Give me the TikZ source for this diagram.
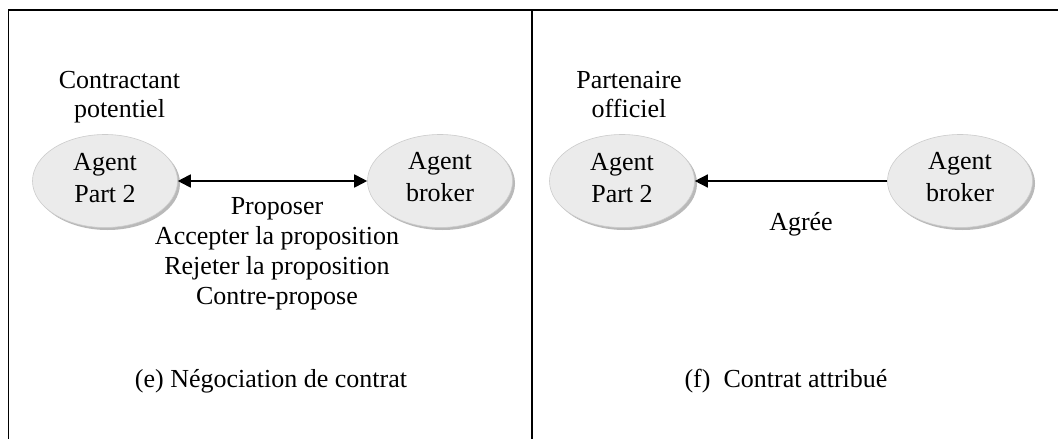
\documentclass[tikz,border=0pt]{standalone}
\usepackage{fontspec}
\setmainfont{Liberation Serif}
\usetikzlibrary{shapes.geometric,arrows.meta}
\begin{document}
\begin{tikzpicture}[x=1pt,y=-1pt,
  >={Triangle[length=13pt,width=13pt]},
  agent/.style={ellipse,minimum width=145pt,minimum height=93pt,inner sep=0pt,
    fill=gray!16,draw=gray!40,line width=0.6pt},
  agentshadow/.style={ellipse,minimum width=145pt,minimum height=93pt,inner sep=0pt,fill=gray!55},
  txt/.style={align=center,anchor=base,inner sep=0pt,font=\fontsize{26}{30}\selectfont},
  agenttxt/.style={txt,font=\fontsize{26}{32}\selectfont},
  roletxt/.style={txt,font=\fontsize{26}{29}\selectfont},
  frame/.style={line width=1.6pt,black},
  link/.style={line width=1.8pt,black}
]
\useasboundingbox (0,0) rectangle (1058,439);
\fill[white] (0,0) rectangle (1058,439);

% panel frame
\draw[frame] (8.5,439) -- (8.5,10) -- (1058,10);
\draw[frame] (532,9) -- (532,439);

% ---- panel (e): contract negotiation ----
\node[agentshadow] at (107.5,183.5) {};
\node[agentshadow] at (442.5,183.5) {};
\node[agent] (p2e) at (105,181) {};
\node[agent] (bre) at (440,181) {};
\node[agenttxt] (p2et) at (105,202) {Agent\\Part 2};
\node[agenttxt] (bret) at (440,201) {Agent\\broker};
\node[roletxt] (rolee) at (119.5,117) {Contractant\\potentiel};
\draw[link,<->] (p2e.east) -- (bre.west);
\node[txt] (msge) at (277,304) {Proposer\\Accepter la proposition\\Rejeter la proposition\\Contre-propose};
\node[txt] (cape) at (271,387) {(e) Négociation de contrat};

% ---- panel (f): contract awarded ----
\node[agentshadow] at (624.5,183.5) {};
\node[agentshadow] at (962.5,183.5) {};
\node[agent] (p2f) at (622,181) {};
\node[agent] (brf) at (960,181) {};
\node[agenttxt] (p2ft) at (622,202) {Agent\\Part 2};
\node[agenttxt] (brft) at (960,201) {Agent\\broker};
\node[roletxt] (rolef) at (629,117) {Partenaire\\officiel};
\draw[link,line width=1.4pt,->] (brf.west) -- (p2f.east);
\node[txt] (agr) at (801,230) {Agrée};
\node[txt] (capf) at (786,387) {(f)\ \ Contrat attribué};
\end{tikzpicture}
\end{document}
